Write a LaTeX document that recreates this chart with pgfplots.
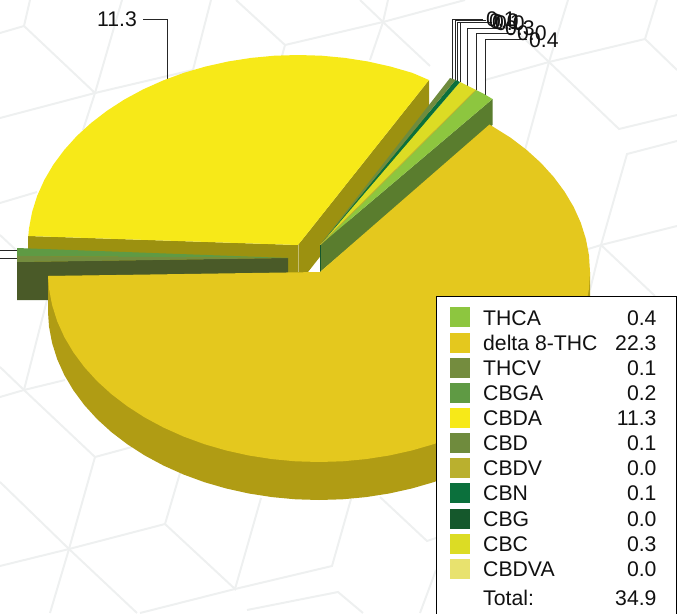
\documentclass[border=0pt]{standalone}
\usepackage{fontspec}
\setmainfont{Liberation Sans}
\usepackage{pgfplots}
\pgfplotsset{compat=1.18}
\definecolor{cTHCA}{HTML}{8DC63F}
\definecolor{cDelta}{HTML}{E4C81E}
\definecolor{cDeltaS}{HTML}{B09C14}
\definecolor{cTHCV}{HTML}{748C3E}
\definecolor{cCBGA}{HTML}{5F9A44}
\definecolor{cCBDA}{HTML}{F7E918}
\definecolor{cCBDAS}{HTML}{9C9110}
\definecolor{cCBD}{HTML}{6F8B3D}
\definecolor{cCBDV}{HTML}{BAB02E}
\definecolor{cCBN}{HTML}{0B703C}
\definecolor{cCBG}{HTML}{15582C}
\definecolor{cCBC}{HTML}{DCDC24}
\definecolor{cCBDVA}{HTML}{E8E26E}
\definecolor{cTHCAS}{HTML}{5A7D2E}
\definecolor{cDark}{HTML}{4A5A28}
\definecolor{cBg}{HTML}{EEF0F0}
\definecolor{cTxt}{HTML}{111111}
\newcommand\lab[3]{\node[anchor=base #1,inner sep=0pt,text=cTxt] at (axis cs:#2) {\fontsize{21.2}{24}\selectfont #3};}
\newcommand\sw[3]{\addplot[fill=#1,draw=none] coordinates {(450,#2)(470,#2)(470,#3)(450,#3)} -- cycle;}
\newcommand\bg[1]{\addplot[cBg,line width=2pt] coordinates {#1};}
\newcommand\ld[1]{\addplot[black!85,line width=0.9pt] coordinates {#1};}
\begin{document}
\begin{tikzpicture}
\begin{axis}[scale only axis,width=677pt,height=613pt,xmin=0,xmax=677,ymin=0,ymax=613,y dir=reverse,hide axis,no markers]
% background pattern
\bg{(0,33)(24,26)(30,0)}
\bg{(24,26)(95,93)(0,118)}
\bg{(95,93)(122,0)}
\bg{(95,93)(193,70)(211,0)}
\bg{(95,93)(83,130)}
\bg{(0,203)(37,192)}
\bg{(0,235)(16,250)}
\bg{(236,0)(285,45)(282,56)}
\bg{(285,45)(383,22)(388,0)}
\bg{(383,22)(360,0)}
\bg{(383,22)(370,60)}
\bg{(383,22)(465,0)}
\bg{(383,22)(430,66)}
\bg{(485,80)(549,62)(645,39)(657,0)}
\bg{(645,39)(677,70)}
\bg{(549,62)(568,0)}
\bg{(549,62)(525,150)}
\bg{(549,62)(619,129)(677,115)}
\bg{(549,62)(512,27)}
\bg{(677,141)(627,154)(601,245)(590,290)}
\bg{(601,245)(677,226)}
\bg{(601,245)(585,250)}
\bg{(601,245)(655,296)}
\bg{(47,300)(24,390)(0,397)}
\bg{(24,390)(0,367)}
\bg{(24,390)(95,457)(132,447)}
\bg{(24,390)(65,380)}
\bg{(95,457)(69,549)(0,566)}
\bg{(0,482)(69,549)(165,524)(180,473)}
\bg{(69,549)(50,613)}
\bg{(69,549)(137,613)}
\bg{(165,524)(235,589)(261,498)}
\bg{(235,589)(332,566)(351,499)}
\bg{(235,589)(140,613)}
\bg{(247,610)(338,592)(363,613)}
\bg{(380,497)(427,541)(436,538)}
\bg{(436,570)(420,613)}
% leader lines
\ld{(143,19)(167,19)(167,79)}
\ld{(0,250)(17,250)}
\ld{(0,258)(17,258)}
\ld{(483,19)(452.3,19)(452.3,79)}
\ld{(486,20.7)(455,20.7)(455,80)}
\ld{(489,22)(457.7,22)(457.7,81)}
\ld{(492,22.7)(460,22.7)(460,82)}
\ld{(502,28)(467.7,28)(467.7,86)}
\ld{(514,33)(476,33)(476,90)}
\ld{(527,39.3)(485.3,39.3)(485.3,95)}
% CBDA faces
\addplot[fill=cCBDAS,draw=none] coordinates {(298,245)(429,80)(429,118)(308,272)(298,285)} -- cycle;
\addplot[fill=cCBDAS,draw=none] coordinates {(28,236)(298,245)(298,285)(28,276)} -- cycle;
\addplot[color=cCBDAS!60!white,line width=0.7pt] coordinates {(298,245)(298,272)};
\addplot[fill=cCBDA,draw=none] coordinates {(298,245)(429,80)(412.1,72.8)(390.3,66.5)(367.9,61.5)(344.9,57.9)(321.5,55.7)(298,55)(274.5,55.7)(251.1,57.9)(228.1,61.5)(205.7,66.5)(183.9,72.8)(163,80.5)(143.1,89.4)(124.4,99.5)(107.1,110.7)(91.2,122.9)(76.8,136)(64.2,150)(53.3,164.7)(44.3,180)(37.2,195.8)(32.1,212)(29,228.4)(28.3,236)} -- cycle;
% left thin slices
\addplot[fill=cDark,draw=none] coordinates {(17,262)(288,258)(288,300)(17,300)} -- cycle;
\addplot[fill=cCBGA,draw=none] coordinates {(288,258)(17,248)(17,256)} -- cycle;
\addplot[fill=cTHCV,draw=none] coordinates {(288,258)(17,256)(17,262)} -- cycle;
% right thin slices
\addplot[fill=cTHCAS,draw=none] coordinates {(320,245)(492.5,99)(492.5,125)(320,272)} -- cycle;
\addplot[fill=cTHCA,draw=none] coordinates {(320,245)(492.5,99)(484,94)(476,90)} -- cycle;
\addplot[fill=cCBC,draw=none] coordinates {(320,245)(476,90)(468,86)(460,82)} -- cycle;
\addplot[fill=cCBN,draw=none] coordinates {(320,245)(460,82)(455.5,80)} -- cycle;
\addplot[fill=cCBD,draw=none] coordinates {(320,245)(455.5,80)(450,78)} -- cycle;
\addplot[color=cCBDV,line width=0.7pt] coordinates {(320,245)(476,90)};
\addplot[color=cCBG,line width=0.8pt] coordinates {(320,245)(320,272)};
% delta 8-THC side and top
\addplot[fill=cDeltaS,draw=none] coordinates {(590,272)(590,310)(589,326.6)(585.9,343)(580.8,359.2)(573.7,375)(564.6,390.3)(553.7,405)(541,419)(526.6,432.1)(510.6,444.3)(493.2,455.5)(474.4,465.6)(454.5,474.5)(433.5,482.2)(411.7,488.5)(389.1,493.5)(366,497.1)(342.6,499.3)(319,500)(295.4,499.3)(272,497.1)(248.9,493.5)(226.3,488.5)(204.5,482.2)(183.5,474.5)(163.6,465.6)(144.8,455.5)(127.4,444.3)(111.4,432.1)(97,419)(84.3,405)(73.4,390.3)(64.3,375)(57.2,359.2)(52.1,343)(49,326.6)(48,312)(48,276)} -- cycle;
\addplot[fill=cDelta,draw=none] coordinates {(320,272)(489.5,124.5)(510.6,137.7)(526.6,149.9)(541,163)(553.7,177)(564.6,191.7)(573.7,207)(580.8,222.8)(585.9,239)(589,255.4)(590,272)(589,288.6)(585.9,305)(580.8,321.2)(573.7,337)(564.6,352.3)(553.7,367)(541,381)(526.6,394.1)(510.6,406.3)(493.2,417.5)(474.4,427.6)(454.5,436.5)(433.5,444.2)(411.7,450.5)(389.1,455.5)(366,459.1)(342.6,461.3)(319,462)(295.4,461.3)(272,459.1)(248.9,455.5)(226.3,450.5)(204.5,444.2)(183.5,436.5)(163.6,427.6)(144.8,417.5)(127.4,406.3)(111.4,394.1)(97,381)(84.3,367)(73.4,352.3)(64.3,337)(57.2,321.2)(52.1,305)(49,288.6)(48,276)} -- cycle;
% legend box
\addplot[fill=white,draw=black,line width=0.9pt] coordinates {(436.5,296.5)(676.5,296.5)(676.5,625)(436.5,625)} -- cycle;
\sw{cTHCA}{307}{327}
\sw{cDelta}{333}{353}
\sw{cTHCV}{358}{378}
\sw{cCBGA}{383}{403}
\sw{cCBDA}{408}{428}
\sw{cCBD}{433}{453}
\sw{cCBDV}{458}{478}
\sw{cCBN}{483}{503}
\sw{cCBG}{509}{529}
\sw{cCBC}{534}{554}
\sw{cCBDVA}{559}{579}
\lab{west}{483,325}{THCA}\lab{east}{656.7,325}{0.4}
\lab{west}{483,350.5}{delta 8-THC}\lab{east}{656.7,350.5}{22.3}
\lab{west}{483,375.5}{THCV}\lab{east}{656.7,375.5}{0.1}
\lab{west}{483,400.5}{CBGA}\lab{east}{656.7,400.5}{0.2}
\lab{west}{483,425.5}{CBDA}\lab{east}{656.7,425.5}{11.3}
\lab{west}{483,450.5}{CBD}\lab{east}{656.7,450.5}{0.1}
\lab{west}{483,475.5}{CBDV}\lab{east}{656.7,475.5}{0.0}
\lab{west}{483,500.5}{CBN}\lab{east}{656.7,500.5}{0.1}
\lab{west}{483,526.5}{CBG}\lab{east}{656.7,526.5}{0.0}
\lab{west}{483,551.5}{CBC}\lab{east}{656.7,551.5}{0.3}
\lab{west}{483,576.5}{CBDVA}\lab{east}{656.7,576.5}{0.0}
\lab{west}{483,605}{Total:}\lab{east}{656.7,605}{34.9}
% value labels
\lab{west}{97,27}{11.3}
\lab{west}{486,26.5}{0.1}
\lab{west}{489,28.2}{0.0}
\lab{west}{492,29.5}{0.1}
\lab{west}{495,30.2}{0.0}
\lab{west}{505,35.5}{0.3}
\lab{west}{517,40.5}{0.0}
\lab{west}{529,47}{0.4}
\end{axis}
\end{tikzpicture}
\end{document}
